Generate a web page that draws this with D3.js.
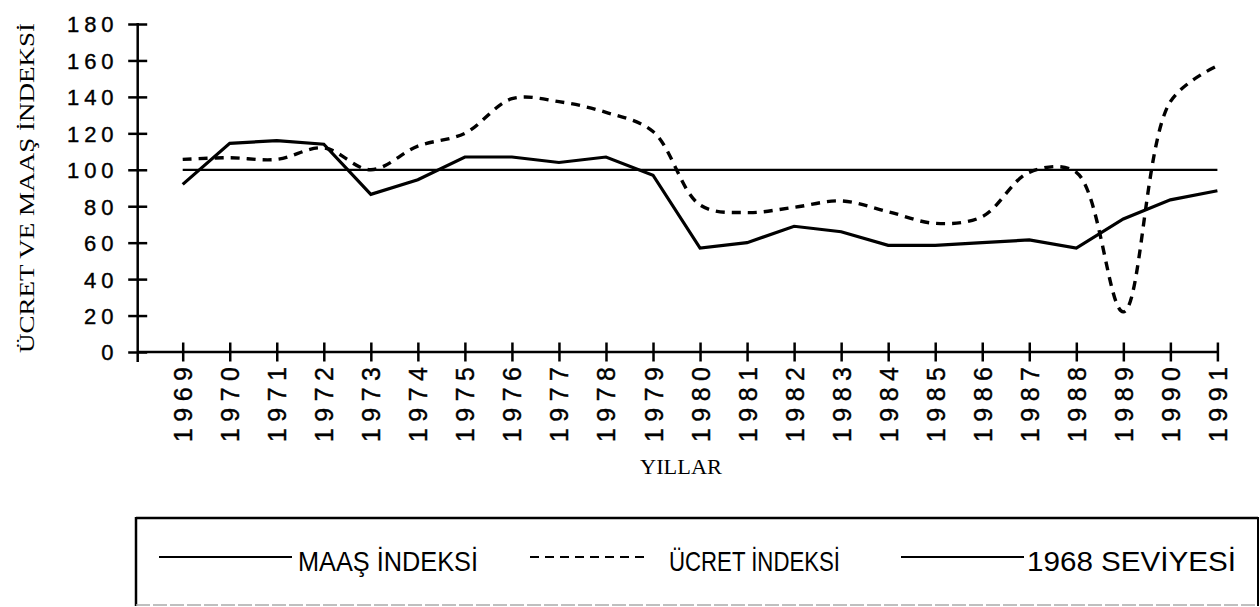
<!DOCTYPE html>
<html><head><meta charset="utf-8">
<script src="https://cdn.jsdelivr.net/npm/d3@7"></script>
<style>html,body{margin:0;padding:0;background:#fff;}svg{display:block;}</style>
</head><body>
<script>
const years = ["1969","1970","1971","1972","1973","1974","1975","1976","1977","1978","1979","1980","1981","1982","1983","1984","1985","1986","1987","1988","1989","1990","1991"];
const maasValues  = [92,114.5,116,114,86.5,94.5,107,107,104,107,97,57,60,69,66,58.5,58.5,60,61.5,57,73,83.5,88.5];
const ucretValues = [105.7,106.6,105.7,112,100,113,120,139,137.4,131.5,121,80.7,76.5,79.4,82.9,77,70.6,74.3,98.6,98.6,22,137.4,157];
const baseValues  = years.map(() => 100);
const yTicks = [0,20,40,60,80,100,120,140,160,180];
const legendLabels = ["MAAŞ İNDEKSİ","ÜCRET İNDEKSİ","1968 SEVİYESİ"];
const yTitle = "ÜCRET VE MAAŞ İNDEKSİ";
const xTitle = "YILLAR";

const W = 1260, H = 607;
const svg = d3.select("body").append("svg").attr("width", W).attr("height", H);
const axisX0 = 137.7;
const x = d3.scalePoint().domain(years).range([182.7, 1217.4]);
const y = d3.scaleLinear().domain([0,180]).range([352,24]);

// Y axis
const gy = svg.append("g").attr("transform", `translate(${axisX0},0)`)
  .call(d3.axisLeft(y).tickValues(yTicks).tickSize(0).tickPadding(0));
gy.select(".domain").remove();
gy.selectAll(".tick line").attr("x1",-9.5).attr("x2",9.5).attr("stroke","#000").attr("stroke-width",2.5);
gy.selectAll(".tick text")
  .attr("x",-19.5).attr("dy","0.36em")
  .attr("font-family","'Liberation Sans', Arial, sans-serif").attr("font-size",22)
  .attr("letter-spacing","4.8px")
  .attr("stroke","#000").attr("stroke-width",0.4)
  .attr("fill","#000").attr("text-anchor","end");
svg.append("line").attr("x1",axisX0).attr("x2",axisX0).attr("y1",y(180)-1).attr("y2",362)
  .attr("stroke","#000").attr("stroke-width",2.5);

// X axis
const gx = svg.append("g").attr("transform", `translate(0,${y(0)})`)
  .call(d3.axisBottom(x).tickSize(0).tickPadding(0));
gx.select(".domain").remove();
gx.selectAll(".tick line").attr("y1",-9.5).attr("y2",9.5).attr("stroke","#000").attr("stroke-width",2.5);
gx.selectAll(".tick text")
  .attr("transform","rotate(-90)").attr("x",-8.5).attr("y",0).attr("dy","0.36em")
  .attr("text-anchor","end")
  .attr("font-family","'Liberation Sans', Arial, sans-serif").attr("font-size",25)
  .attr("letter-spacing","6.5px")
  .attr("stroke","#000").attr("stroke-width",0.4)
  .attr("fill","#000");
svg.append("line").attr("x1",axisX0).attr("x2",x("1991")).attr("y1",y(0)).attr("y2",y(0))
  .attr("stroke","#000").attr("stroke-width",2.5);

// lines
const idx = d3.range(years.length);
svg.append("path")
  .attr("d", d3.line().x(i => x(years[i])).y(i => y(baseValues[i]))(idx))
  .attr("fill","none").attr("stroke","#000").attr("stroke-width",2.2);
svg.append("path")
  .attr("d", d3.line().x(i => x(years[i])).y(i => y(ucretValues[i])).curve(d3.curveCatmullRom.alpha(0.5))(idx))
  .attr("fill","none").attr("stroke","#000").attr("stroke-width",3.4)
  .attr("stroke-dasharray","9,7");
svg.append("path")
  .attr("d", d3.line().x(i => x(years[i])).y(i => y(maasValues[i]))(idx))
  .attr("fill","none").attr("stroke","#000").attr("stroke-width",3.2).attr("stroke-linejoin","miter");

// axis titles
svg.append("text").attr("transform","translate(34,188) rotate(-90)")
  .attr("text-anchor","middle").attr("font-family","'Liberation Serif', 'Times New Roman', serif")
  .attr("font-size",22).attr("fill","#000")
  .attr("textLength",330).attr("lengthAdjust","spacingAndGlyphs").text(yTitle);
svg.append("text").attr("x",681).attr("y",474)
  .attr("text-anchor","middle").attr("font-family","'Liberation Serif', 'Times New Roman', serif")
  .attr("font-size",21).attr("fill","#000")
  .attr("textLength",82).attr("lengthAdjust","spacingAndGlyphs").text(xTitle);

// legend
const lg = svg.append("g");
lg.append("line").attr("x1",136).attr("x2",1258).attr("y1",518).attr("y2",518).attr("stroke","#000").attr("stroke-width",2.5);
lg.append("line").attr("x1",136).attr("x2",136).attr("y1",517).attr("y2",606).attr("stroke","#000").attr("stroke-width",2.5);
lg.append("line").attr("x1",1258).attr("x2",1258).attr("y1",517).attr("y2",606).attr("stroke","#000").attr("stroke-width",2);
lg.append("line").attr("x1",136).attr("x2",1258).attr("y1",605).attr("y2",605).attr("stroke","#aaa").attr("stroke-width",1.5).attr("stroke-dasharray","14,3");
const items = [
  {x1:159, x2:292, dash:null, tx:298, tl:180},
  {x1:530, x2:644, dash:"9,6", tx:669, tl:171},
  {x1:901, x2:1024, dash:null, tx:1027, tl:209}
];
items.forEach((it,k) => {
  const ln = lg.append("line").attr("x1",it.x1).attr("x2",it.x2).attr("y1",557).attr("y2",557)
    .attr("stroke","#000").attr("stroke-width",2.2);
  if (it.dash) ln.attr("stroke-dasharray", it.dash);
  lg.append("text").attr("x",it.tx).attr("y",571)
    .attr("font-family","'Liberation Sans Narrow', 'Arial Narrow', 'Liberation Sans', sans-serif")
    .attr("font-size",28).attr("fill","#000")
    .attr("textLength",it.tl).attr("lengthAdjust","spacingAndGlyphs").text(legendLabels[k]);
});
</script>
</body></html>
